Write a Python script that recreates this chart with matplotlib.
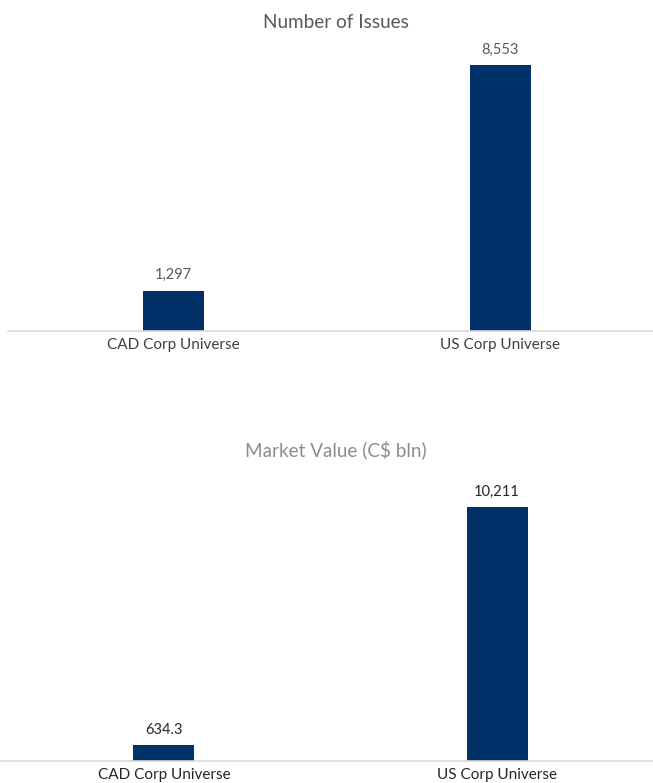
import matplotlib.pyplot as plt

plt.rcParams['font.family'] = ['Lato', 'DejaVu Sans']

categories = ['CAD Corp Universe', 'US Corp Universe']
issues = [1297, 8553]
issue_labels = ['1,297', '8,553']
market_value = [634.3, 10211]
mv_labels = ['634.3', '10,211']

W, H = 653, 783
fig = plt.figure(figsize=(W / 100, H / 100), dpi=100)
bar_color = '#003168'


def px_axes(left, right, bottom, top):
    # pixel box (origin at top-left) -> figure fraction
    return [left / W, 1 - bottom / H, (right - left) / W, (bottom - top) / H]


def draw_panel(ax, values, labels, c0, c1, x_left, width_px, txt_color, lbl_color):
    unit = c1 - c0
    x = list(range(len(categories)))
    ax.bar(x, values, width=width_px / unit, color=bar_color)
    ax.set_xlim(-(c0 - x_left) / unit, 1 + (W - c1) / unit)
    ax.set_ylim(0, max(values) * 1.1)
    for xi, v, s in zip(x, values, labels):
        ax.annotate(s, (xi, v), xytext=(0, 6), textcoords='offset points',
                    ha='center', va='bottom', fontsize=10.5, color=txt_color)
    ax.set_xticks(x)
    ax.set_xticklabels(categories, fontsize=11, color=lbl_color)
    ax.tick_params(axis='x', length=0, pad=5)
    ax.set_yticks([])
    for s in ['top', 'right', 'left']:
        ax.spines[s].set_visible(False)
    ax.spines['bottom'].set_color('#d9d9d9')
    ax.spines['bottom'].set_linewidth(1.2)


# Number of Issues
h1 = 266 * 1.1
ax1 = fig.add_axes(px_axes(8, W, 331, 331 - h1))
draw_panel(ax1, issues, issue_labels, 173, 500, 8, 61, '#595959', '#404040')
fig.text(336 / W, 1 - 22 / H, 'Number of Issues', ha='center', va='center',
         fontsize=13.6, color='#595959')

# Market Value
h2 = 254 * 1.1
ax2 = fig.add_axes(px_axes(0, W, 761, 761 - h2))
draw_panel(ax2, market_value, mv_labels, 164, 497, 0, 61, '#262626', '#262626')
fig.text(336 / W, 1 - 450 / H, 'Market Value (C$ bln)', ha='center', va='center',
         fontsize=13.6, color='#8c8c8c')

fig.savefig('out.png', dpi=100)
